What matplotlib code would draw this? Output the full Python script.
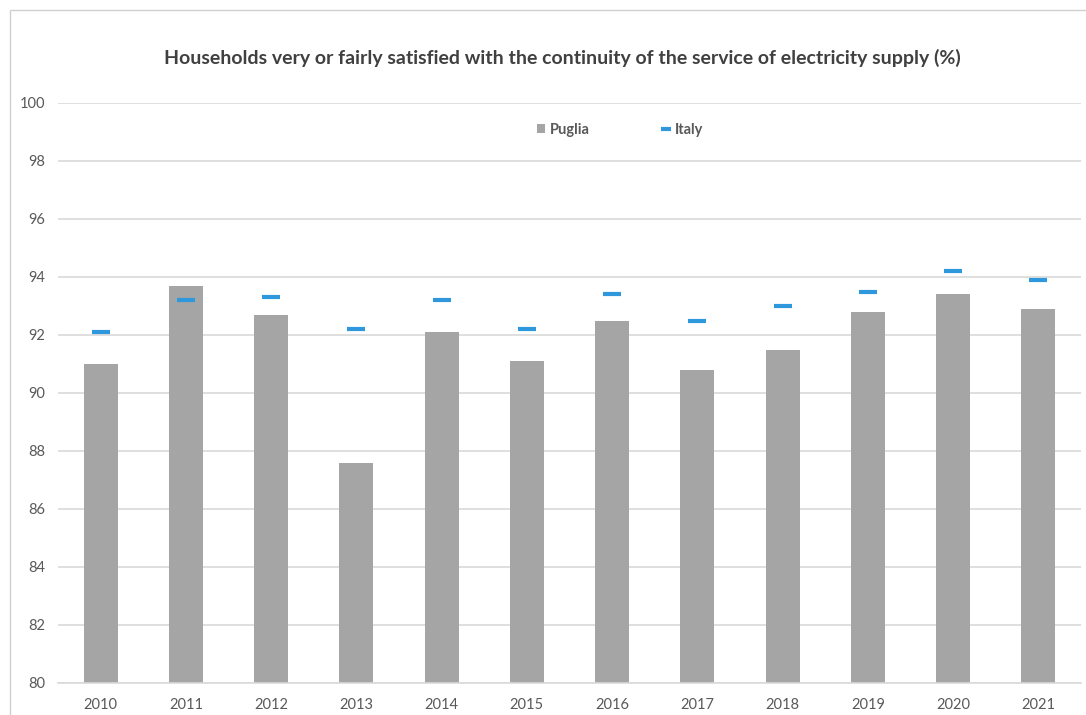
import matplotlib
matplotlib.use("Agg")
import matplotlib.pyplot as plt
from matplotlib.lines import Line2D
from matplotlib.patches import Patch, Rectangle

years = ["2010", "2011", "2012", "2013", "2014", "2015",
         "2016", "2017", "2018", "2019", "2020", "2021"]
puglia = [91.0, 93.7, 92.7, 87.6, 92.1, 91.1, 92.5, 90.8, 91.5, 92.8, 93.4, 92.9]
italy = [92.1, 93.2, 93.3, 92.2, 93.2, 92.2, 93.4, 92.5, 93.0, 93.5, 94.2, 93.9]
y_ticks = [80, 82, 84, 86, 88, 90, 92, 94, 96, 98, 100]
title = "Households very or fairly satisfied with the continuity of the service of electricity supply (%)"

BAR = "#a5a5a5"
BLUE = "#2f97dc"
GRID = "#d9d9d9"
TEXT = "#595959"

plt.rcParams["font.family"] = ["Lato", "DejaVu Sans"]

fig = plt.figure(figsize=(10.86, 7.15), dpi=100)
fig.patch.set_facecolor("white")

# light frame around the chart area
fig.add_artist(Rectangle((10 / 1086, -0.01), 1.02, 1 - 10 / 715 + 0.01,
                         transform=fig.transFigure, fill=False,
                         edgecolor="#d0d0d0", linewidth=1))

ax = fig.add_axes([58 / 1086, 32 / 715, 1023 / 1086, 580 / 715])
x = list(range(len(years)))
ax.bar(x, puglia, width=0.4, color=BAR, zorder=2)
ax.plot(x, italy, linestyle="none", marker="_", markersize=12.5,
        markeredgewidth=3.0, color=BLUE, zorder=3)

ax.set_xlim(-0.5, len(years) - 0.5)
ax.set_ylim(80, 100)
ax.set_yticks(y_ticks)
ax.set_xticks(x)
ax.set_xticklabels(years)
ax.yaxis.grid(True, color=GRID, linewidth=1.2, zorder=0)
ax.set_axisbelow(True)
for s in ("top", "right", "left"):
    ax.spines[s].set_visible(False)
ax.spines["bottom"].set_color(GRID)
ax.spines["bottom"].set_linewidth(1.2)
ax.tick_params(axis="both", length=0, colors=TEXT, labelsize=10.5)
ax.tick_params(axis="y", pad=9)
ax.tick_params(axis="x", pad=10.5)

fig.text(562 / 1086, 1 - 58 / 715, title, ha="center", va="center",
         fontsize=14, fontweight="bold", color="#404040")

handles = [
    Patch(facecolor=BAR, edgecolor="none"),
    Line2D([], [], color=BLUE, marker="_", markersize=7,
           markeredgewidth=3, linestyle="none"),
]
leg = fig.legend(handles, ["Puglia", "Italy"], loc="center",
                 bbox_to_anchor=(620 / 1086, 1 - 130 / 715), ncol=2,
                 frameon=False, handlelength=0.55, handleheight=0.55,
                 handletextpad=0.3, columnspacing=5.0,
                 prop={"size": 10.5, "weight": "bold"})
for t in leg.get_texts():
    t.set_color(TEXT)

fig.savefig("out.png", dpi=100)
